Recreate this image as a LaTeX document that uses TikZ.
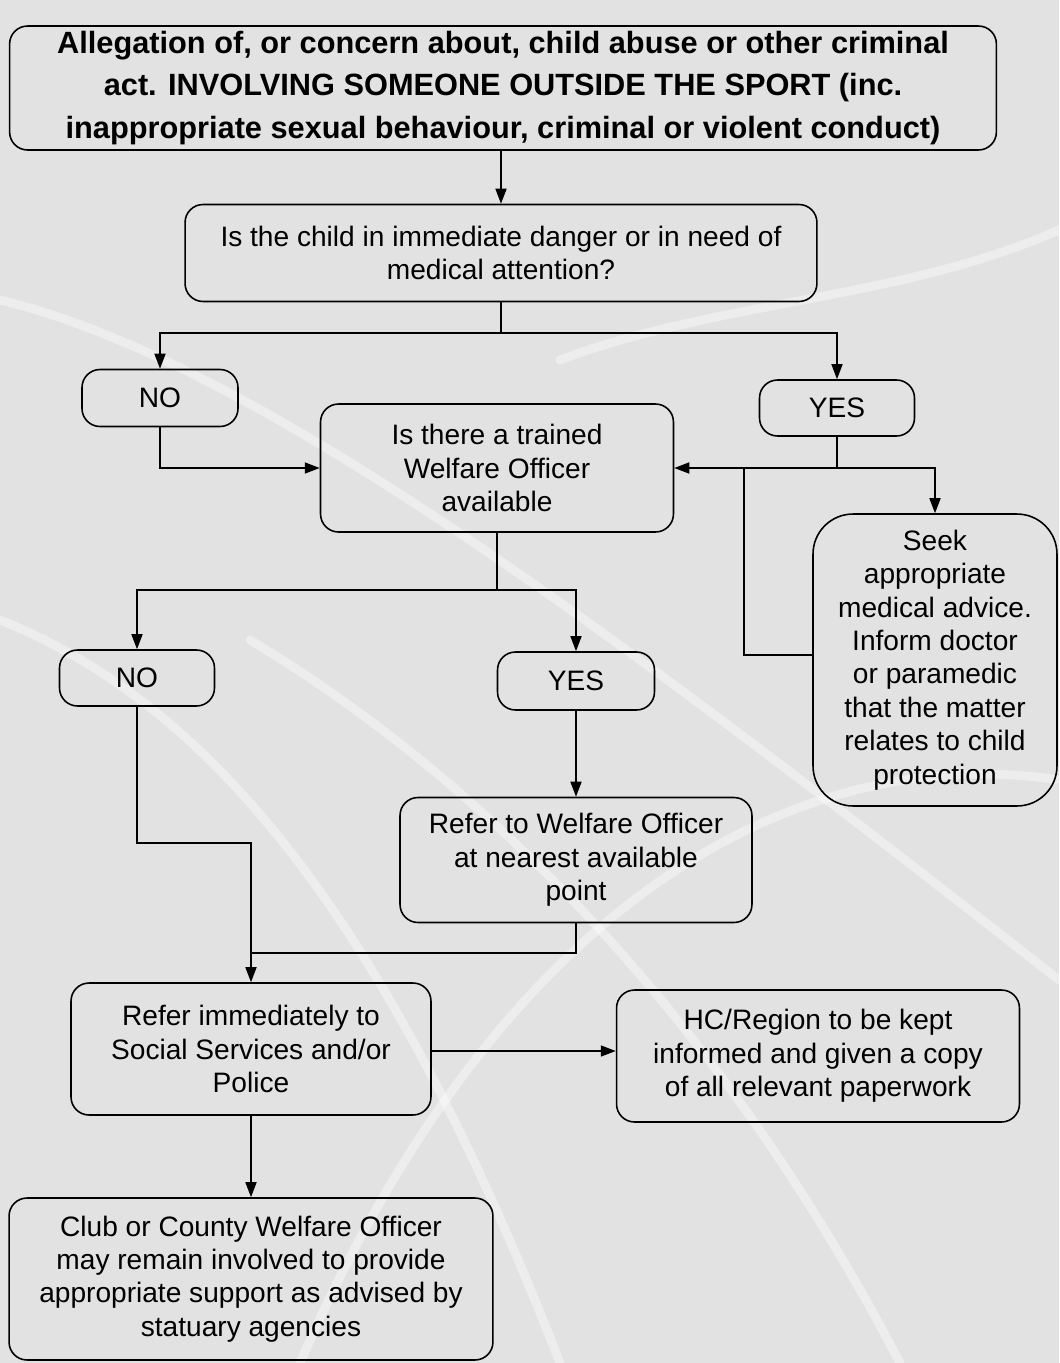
\documentclass[tikz,border=0pt]{standalone}
\usepackage{fontspec}
\setmainfont{Liberation Sans}
\usetikzlibrary{arrows.meta}
\definecolor{paper}{HTML}{E2E2E2}
\tikzset{
  box/.style={draw=black, line width=0.9pt, rounded corners=0.36cm, align=center,
    inner sep=0pt, font=\fontsize{16}{19}\selectfont},
  flow/.style={line width=0.9pt, -{Triangle[length=0.3cm,width=0.22cm]}},
  link/.style={line width=0.9pt},
  streak/.style={white, opacity=0.4, line width=5pt, line cap=round},
}
\begin{document}
\begin{tikzpicture}[x=0.02cm, y=-0.02cm]
% Paper
\fill[paper] (0,0) rectangle (1059,1363);
\useasboundingbox (0,0) rectangle (1059,1363);

% Streaks in the background
\draw[streak] (0,300) .. controls (250,360) and (600,620) .. (1059,980);
\draw[streak] (0,620) .. controls (200,700) and (380,900) .. (560,1363);
\draw[streak] (250,640) .. controls (450,760) and (700,980) .. (900,1363);
\draw[streak] (1059,230) .. controls (900,300) and (720,300) .. (560,360);
\draw[streak] (1059,780) .. controls (800,740) and (500,900) .. (300,1363);

% Start
\node[box, font=\bfseries\fontsize{17.5}{24}\selectfont, minimum width=19.74cm, minimum height=2.48cm] (alleg) at (503,88)
  {Allegation of, or concern about, child abuse or other criminal\\
   act. INVOLVING SOMEONE OUTSIDE THE SPORT (inc.\\
   inappropriate sexual behaviour, criminal or violent conduct)};

% First question
\node[box, minimum width=12.64cm, minimum height=1.94cm] (danger) at (501,253)
  {Is the child in immediate danger or in need of\\ medical attention?};
\node[box, minimum width=3.12cm, minimum height=1.14cm] (no1) at (160,398) {NO};
\node[box, minimum width=3.1cm, minimum height=1.12cm] (yes1) at (837,408) {YES};

% Welfare Officer question
\node[box, minimum width=7.06cm, minimum height=2.56cm] (officer) at (497,468)
  {Is there a trained\\ Welfare Officer\\ available};
\node[box, rounded corners=0.8cm, minimum width=4.88cm, minimum height=5.84cm] (medical) at (935,660)
  {Seek\\ appropriate\\ medical advice.\\ Inform doctor\\ or paramedic\\ that the matter\\ relates to child\\ protection};
\node[box, minimum width=3.1cm, minimum height=1.12cm] (no2) at (137,678) {NO};
\node[box, minimum width=3.14cm, minimum height=1.16cm] (yes2) at (576,681) {YES};
\node[box, minimum width=7.04cm, minimum height=2.5cm] (nearest) at (576,860)
  {Refer to Welfare Officer\\ at nearest available\\ point};

% Referral and follow-up
\node[box, minimum width=7.2cm, minimum height=2.64cm] (social) at (251,1049)
  {Refer immediately to\\ Social Services and/or\\ Police};
\node[box, minimum width=8.06cm, minimum height=2.64cm] (region) at (818,1056)
  {HC/Region to be kept\\ informed and given a copy\\ of all relevant paperwork};
\node[box, minimum width=9.68cm, minimum height=3.24cm] (club) at (251,1279)
  {Club or County Welfare Officer\\ may remain involved to provide\\ appropriate support as advised by\\ statuary agencies};

% Junctions
\coordinate (fork1) at (501,333);
\coordinate (fork2) at (497,590);
\coordinate (loop) at (744,655);
\coordinate (jog) at (251,843);
\coordinate (merge) at (251,953);

% Connectors
\draw[flow] (alleg.south -| danger) -- (danger.north);
\draw[link] (danger.south) -- (fork1);
\draw[flow] (fork1) -| (no1.north);
\draw[flow] (fork1) -| (yes1.north);
\draw[flow] (no1.south) |- (officer.west);
\draw[flow] (yes1.south) |- (officer.east);
\draw[flow] (yes1.south |- officer.east) -| (medical.north);
\draw[link] (medical.west |- loop) -- (loop) -- (loop |- officer.east);
\draw[link] (officer.south) -- (fork2);
\draw[flow] (fork2) -| (no2.north);
\draw[flow] (fork2) -| (yes2.north);
\draw[flow] (yes2.south) -- (nearest.north);
\draw[flow] (no2.south) |- (jog) -- (social.north);
\draw[link] (nearest.south) |- (merge);
\draw[flow] (social.east |- 0,1051) -- (region.west |- 0,1051);
\draw[flow] (social.south) -- (club.north);
\end{tikzpicture}
\end{document}
